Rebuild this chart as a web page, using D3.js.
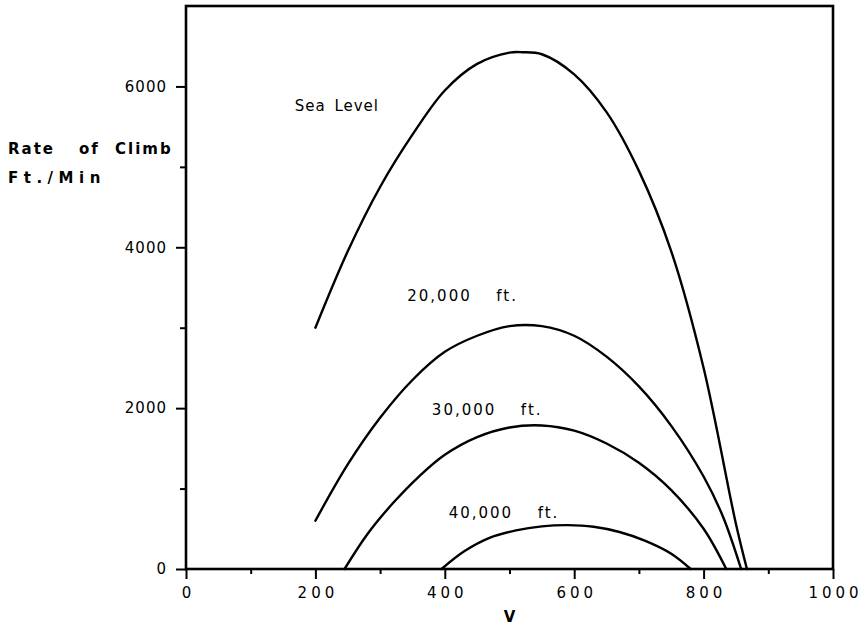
<!DOCTYPE html>
<html>
<head>
<meta charset="utf-8">
<script src="https://cdn.jsdelivr.net/npm/d3@7"></script>
<style>
  html, body { margin: 0; padding: 0; background: #fff; }
  svg { display: block; }
  text { font-family: "DejaVu Sans", sans-serif; fill: #000; }
</style>
</head>
<body>
<svg id="chart" width="866" height="639"></svg>
<script>
// ---- data ----
const seaLevelV  = [200, 250, 300, 350, 400, 450, 500, 520, 550, 600, 650, 700, 750, 800, 850, 867];
const seaLevelRC = [3000, 3950, 4750, 5400, 5950, 6280, 6420, 6425, 6400, 6150, 5680, 4950, 3950, 2500, 560, 0];

const alt20V  = [200, 250, 300, 350, 400, 450, 500, 550, 600, 650, 700, 750, 800, 830, 858];
const alt20RC = [600, 1300, 1880, 2350, 2700, 2900, 3020, 3020, 2900, 2640, 2270, 1780, 1150, 650, 0];

const alt30V  = [245, 280, 320, 360, 400, 450, 500, 550, 600, 650, 700, 750, 800, 835];
const alt30RC = [0, 430, 820, 1150, 1420, 1640, 1760, 1785, 1720, 1560, 1320, 980, 500, 0];

const alt40V  = [395, 430, 470, 510, 550, 590, 630, 670, 710, 750, 780];
const alt40RC = [0, 220, 390, 480, 530, 545, 525, 460, 350, 190, 0];

const seriesNames = ["Sea Level", "20,000", "30,000", "40,000"];
const labelV  = [168, 342, 380, 406];
const labelRC = [5700, 3330, 1915, 635];

const xMajorTicks = [0, 200, 400, 600, 800, 1000];
const xMinorTicks = [100, 300, 500, 700, 900];
const yMajorTicks = [0, 2000, 4000, 6000];
const yMinorTicks = [1000, 3000, 5000];

// ---- chart ----
const svg = d3.select("#chart");
const x = d3.scaleLinear().domain([0, 1000]).range([186, 833]);
const y = d3.scaleLinear().domain([0, 7000]).range([569, 6]);

const series = [
  d3.zip(seaLevelV, seaLevelRC),
  d3.zip(alt20V, alt20RC),
  d3.zip(alt30V, alt30RC),
  d3.zip(alt40V, alt40RC)
];

const line = d3.line()
  .x(d => x(d[0]))
  .y(d => y(d[1]))
  .curve(d3.curveCatmullRom.alpha(0.5));

svg.append("g").selectAll("path")
  .data(series)
  .join("path")
  .attr("d", line)
  .attr("fill", "none")
  .attr("stroke", "#000")
  .attr("stroke-width", 2.4)
  .attr("stroke-linejoin", "round")
  .attr("stroke-linecap", "round");

// frame
svg.append("rect")
  .attr("x", x(0)).attr("y", y(7000))
  .attr("width", x(1000) - x(0)).attr("height", y(0) - y(7000))
  .attr("fill", "none").attr("stroke", "#000").attr("stroke-width", 2.6);

// x axis
const xMinor = d3.axisBottom(x).tickValues(xMinorTicks).tickSize(5).tickFormat("");
const xMajor = d3.axisBottom(x).tickValues(xMajorTicks).tickSize(10).tickPadding(8).tickFormat(d3.format("d"));
const gxm = svg.append("g").attr("transform", `translate(0,${y(0)})`).call(xMinor);
const gx = svg.append("g").attr("transform", `translate(0,${y(0)})`).call(xMajor);
[gxm, gx].forEach(g => {
  g.select(".domain").remove();
  g.selectAll("line").attr("stroke", "#000").attr("stroke-width", 2);
});
gx.selectAll("text")
  .attr("font-size", 15)
  .attr("font-family", "DejaVu Sans, sans-serif")
  .style("letter-spacing", "4px")
  .attr("dx", 2)
  .attr("fill", "#000");

// y axis
const yMinor = d3.axisLeft(y).tickValues(yMinorTicks).tickSize(6).tickFormat("");
const yMajor = d3.axisLeft(y).tickValues(yMajorTicks).tickSize(10).tickPadding(10).tickFormat(d3.format("d"));
const gym = svg.append("g").attr("transform", `translate(${x(0)},0)`).call(yMinor);
const gy = svg.append("g").attr("transform", `translate(${x(0)},0)`).call(yMajor);
[gym, gy].forEach(g => {
  g.select(".domain").remove();
  g.selectAll("line").attr("stroke", "#000").attr("stroke-width", 2);
});
gy.selectAll("text")
  .attr("font-size", 15)
  .attr("font-family", "DejaVu Sans, sans-serif")
  .style("letter-spacing", "1px")
  .attr("dx", 1)
  .attr("fill", "#000");

// series labels
const lab = svg.append("g").attr("font-size", 15);
seriesNames.forEach((name, i) => {
  lab.append("text")
    .attr("x", x(labelV[i]))
    .attr("y", y(labelRC[i]))
    .style("letter-spacing", i === 0 ? "1px" : "2px")
    .style("word-spacing", i === 0 ? "3px" : "4px")
    .text(name);
  if (i > 0) {
    lab.append("text")
      .attr("x", x(labelV[i]) + 89)
      .attr("y", y(labelRC[i]))
      .style("letter-spacing", "2px")
      .text("ft.");
  }
});

// axis titles
const yt = svg.append("g").attr("font-size", 15).attr("font-weight", "bold");
const t1 = yt.append("text").attr("y", 154).style("letter-spacing", "2px");
t1.append("tspan").attr("x", 8).text("Rate");
t1.append("tspan").attr("x", 79).text("of");
t1.append("tspan").attr("x", 115).text("Climb");
yt.append("text").attr("x", 8).attr("y", 183).style("letter-spacing", "5.5px").text("Ft./Min");

svg.append("text")
  .attr("x", (x(0) + x(1000)) / 2)
  .attr("y", 622)
  .attr("text-anchor", "middle")
  .attr("font-size", 15)
  .attr("font-weight", "bold")
  .text("V");
</script>
</body>
</html>
